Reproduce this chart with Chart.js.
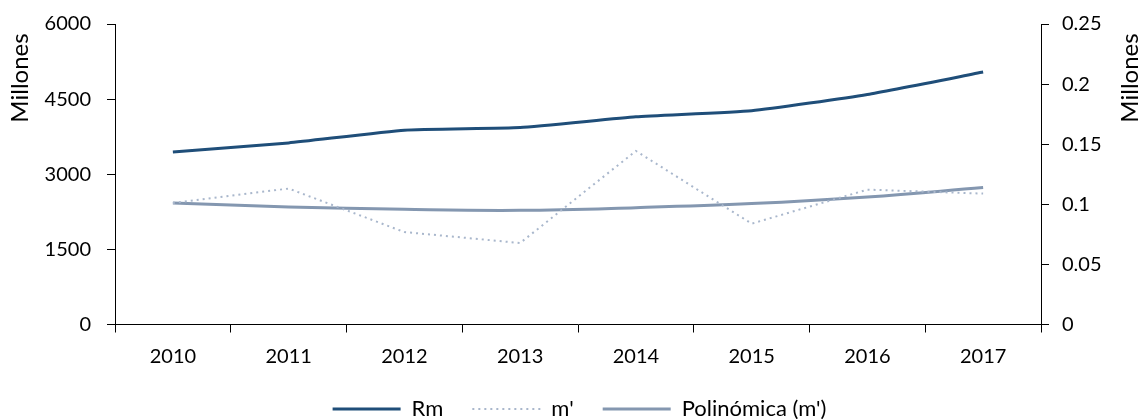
<!DOCTYPE html>
<html><head><meta charset="utf-8">
<script src="https://cdn.jsdelivr.net/npm/chart.js@4/dist/chart.umd.min.js"></script>
<style>html,body{margin:0;padding:0;background:#fff}canvas{display:block}</style>
</head><body>
<canvas id="c" width="1141" height="419"></canvas>
<script>
const years = ['2010','2011','2012','2013','2014','2015','2016','2017'];
const rm = [3446, 3626, 3880, 3933, 4146, 4267, 4593, 5040];
const mPrime = [0.1011, 0.1131, 0.0769, 0.0678, 0.1444, 0.0839, 0.1122, 0.1089];
const trendM = [0.1011, 0.0978, 0.0958, 0.0950, 0.0972, 0.1006, 0.1061, 0.1139];
const leftTicks = [0, 1500, 3000, 4500, 6000];
const rightTicks = [0, 0.05, 0.1, 0.15, 0.2, 0.25];
const leftTitle = 'Millones';
const rightTitle = 'Millones';

const FONT = 'Lato';
const tickFont = {family: FONT, size: 20};

const titlePlugin = {
  id: 'axisTitles',
  afterDraw(chart) {
    const ctx = chart.ctx;
    ctx.save();
    ctx.fillStyle = '#000';
    ctx.font = '24px ' + FONT;
    ctx.textAlign = 'center';
    ctx.textBaseline = 'alphabetic';
    [[28, 78, leftTitle], [1138, 78, rightTitle]].forEach(([x, y, t]) => {
      ctx.save();
      ctx.translate(x, y);
      ctx.rotate(-Math.PI / 2);
      ctx.fillText(t, 0, 0);
      ctx.restore();
    });
    ctx.restore();
  }
};

new Chart(document.getElementById('c'), {
  type: 'line',
  data: {
    labels: years,
    datasets: [
      {label: 'Rm', data: rm, yAxisID: 'y', borderColor: '#1F4E79', backgroundColor: '#1F4E79', borderWidth: 3, pointRadius: 0, tension: 0.15},
      {label: "m'", data: mPrime, yAxisID: 'y2', borderColor: '#A9B7CC', backgroundColor: '#A9B7CC', borderWidth: 2, borderDash: [2, 4], pointRadius: 0, tension: 0},
      {label: "Polinómica (m')", data: trendM, yAxisID: 'y2', borderColor: '#8497B0', backgroundColor: '#8497B0', borderWidth: 3, pointRadius: 0, tension: 0.4}
    ]
  },
  options: {
    responsive: false,
    animation: false,
    layout: {padding: {left: 18, right: 0, top: 24, bottom: -11}},
    plugins: {
      tooltip: {enabled: false},
      legend: {
        position: 'bottom',
        labels: {
          usePointStyle: true, pointStyle: 'line', pointStyleWidth: 68,
          font: {family: FONT, size: 22}, color: '#000', padding: 29,
          generateLabels(chart) {
            const items = Chart.defaults.plugins.legend.labels.generateLabels(chart);
            items.forEach(it => {
              const ds = chart.data.datasets[it.datasetIndex];
              it.lineDash = ds.borderDash || [];
              it.lineWidth = ds.borderWidth;
              it.strokeStyle = ds.borderColor;
              it.pointStyle = 'line';
            });
            return items;
          }
        }
      }
    },
    scales: {
      x: {
        offset: true,
        grid: {offset: true, drawOnChartArea: false, drawTicks: true, tickLength: 8, color: '#000'},
        border: {color: '#000', width: 1},
        ticks: {font: tickFont, color: '#000', padding: 12, maxRotation: 0, autoSkip: false},
        afterFit(s) { s.height = 44.5; }
      },
      y: {
        position: 'left', min: 0, max: 6000,
        afterBuildTicks(s) { s.ticks = leftTicks.map(v => ({value: v})); },
        ticks: {font: tickFont, color: '#000', padding: 16, callback: v => String(v)},
        grid: {drawOnChartArea: false, drawTicks: true, tickLength: 8, color: '#000'},
        border: {color: '#000', width: 1},
        afterFit(s) { s.width = 97; s.paddingTop = 0; s.paddingBottom = 0; }
      },
      y2: {
        position: 'right', min: 0, max: 0.25,
        afterBuildTicks(s) { s.ticks = rightTicks.map(v => ({value: v})); },
        ticks: {font: tickFont, color: '#000', padding: 13, callback: v => String(v)},
        grid: {drawOnChartArea: false, drawTicks: true, tickLength: 8, color: '#000'},
        border: {color: '#000', width: 1},
        afterFit(s) { s.width = 100; s.paddingTop = 0; s.paddingBottom = 0; }
      }
    }
  },
  plugins: [titlePlugin]
});
</script>
</body></html>
